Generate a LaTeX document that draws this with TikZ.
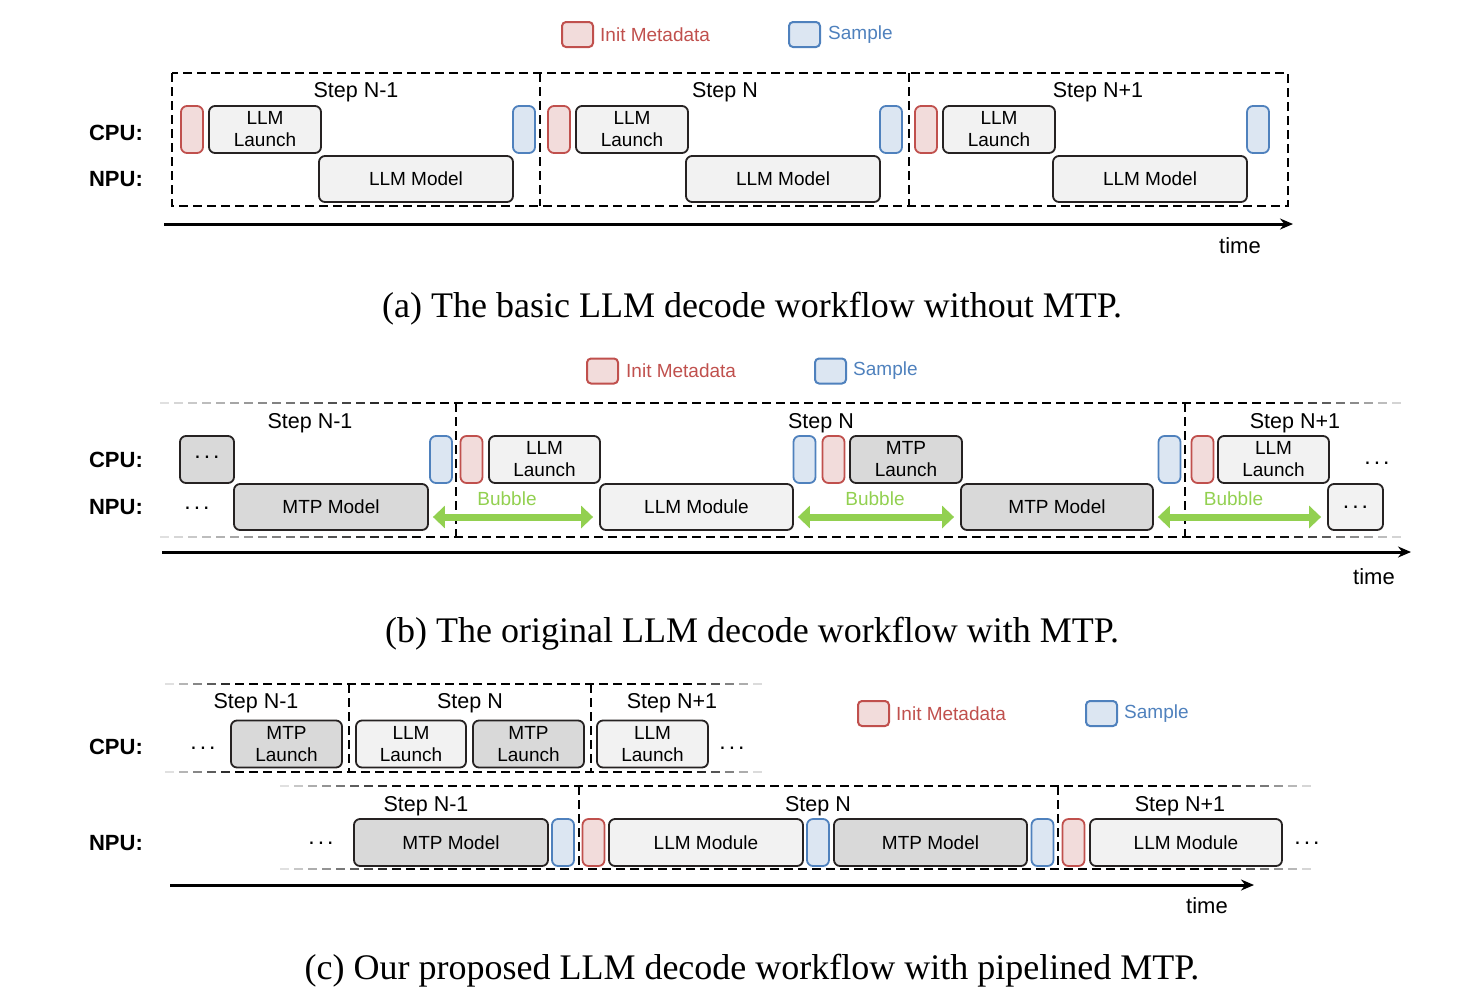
\documentclass[tikz,border=0pt]{standalone}
\usepackage{fontspec}
\setmainfont{Liberation Serif}
\setsansfont{Liberation Sans}
\usetikzlibrary{arrows.meta,positioning}
\definecolor{initred}{RGB}{192,80,77}
\definecolor{initfill}{RGB}{242,220,219}
\definecolor{smplblue}{RGB}{79,129,189}
\definecolor{smplfill}{RGB}{220,230,242}
\definecolor{boxline}{RGB}{38,34,34}
\definecolor{litefill}{RGB}{242,242,242}
\definecolor{darkfill}{RGB}{217,217,217}
\definecolor{bubblegreen}{RGB}{146,208,80}
\tikzset{
    %Define standard arrow tip
    >={Stealth[length=13pt,width=11pt]},
    %Define style for boxes
    llmbox/.style={
           rectangle,
           rounded corners=6pt,
           draw=boxline, line width=1.8pt,
           minimum height=47pt,
           inner sep=0pt,
           font=\sffamily\fontsize{19}{22}\selectfont,
           align=center,
           fill=litefill},
    mtpbox/.style={llmbox, fill=darkfill},
    initbox/.style={llmbox, draw=initred, fill=initfill, minimum width=22pt},
    samplebox/.style={llmbox, draw=smplblue, fill=smplfill, minimum width=22pt},
    keybox/.style={
           rectangle,
           rounded corners=4pt,
           line width=2pt,
           minimum width=31pt,
           minimum height=25pt},
    plain/.style={font=\sffamily\fontsize{19}{22}\selectfont},
    steplabel/.style={font=\sffamily\fontsize{21.5}{24}\selectfont},
    timelabel/.style={font=\sffamily\fontsize{22}{24}\selectfont},
    unit/.style={font=\sffamily\bfseries\fontsize{22}{24}\selectfont},
    caption/.style={font=\fontsize{36}{40}\selectfont},
    % Define frame and arrow styles
    frame/.style={dash pattern=on 9pt off 5pt, line width=2pt},
    divider/.style={dash pattern=on 9pt off 5pt, line width=1.6pt},
    axis/.style={->, line width=3pt},
    bubble/.style={
           {Triangle[length=12pt,width=22pt]}-{Triangle[length=12pt,width=22pt]},
           line width=7pt,
           draw=bubblegreen,
           shorten <=4pt,
           shorten >=6pt},
    bubbletext/.style={midway, above=4pt, xshift=-7pt, text=bubblegreen, plain}
}
% spaced dots
\newcommand{\sdots}{{\fontsize{23}{23}\selectfont.\kern3pt.\kern3pt.}}
% dashed line fading out at both ends
\newcommand{\fadeline}[5]{%
  \pgfmathsetmacro{\fnext}{#1+14}%
  \foreach \fx in {#1,\fnext,...,#2}{%
    \pgfmathtruncatemacro{\fp}{12+88*min(1,(\fx-#1)/#4,(#2-\fx)/#5)}%
    \draw[black!\fp, line width=2pt] (\fx,#3) -- ++(9,0);
  }}

\begin{document}
\begin{tikzpicture}[x=1pt,y=-1pt]
\useasboundingbox (0,0) rectangle (1482,999);

% (a) basic workflow
\node[keybox, draw=initred, fill=initfill] (ka1) at (577.5,34.5) {};
\node[plain, text=initred, anchor=west, inner sep=0pt] (kta1) at (600,35) {Init Metadata};
\node[keybox, draw=smplblue, fill=smplfill] (ka2) at (804.5,34.5) {};
\node[plain, text=smplblue, anchor=west, inner sep=0pt] (kta2) at (828,35) {Sample};
\node[unit] (cpua) at (116,133) {CPU:};
\node[unit] (npua) at (116,179) {NPU:};
\draw[frame] (172,73) rectangle (1288,206);
\draw[frame] (540,73) -- (540,206);
\draw[frame] (909,73) -- (909,206);
\foreach \i/\s/\c in {0/N-1/356,1/N/725,2/N+1/1098}{
  \pgfmathsetmacro{\dx}{367*\i}
  \node[steplabel] (sa\i) at (\c,92) {Step \s};
  \node[initbox] (ia\i) at (192+\dx,129.5) {};
  \node[llmbox, minimum width=112pt] (la\i) at (265+\dx,129.5) {LLM\\Launch};
  \node[llmbox, minimum width=194pt, minimum height=46pt] (ma\i) at (416+\dx,179) {LLM Model};
  \node[samplebox] (pa\i) at (524+\dx,129.5) {};
}
\coordinate (ta0) at (164,224);
\coordinate (ta1) at (1293,224);
\draw[axis] (ta0) -- (ta1);
\node[timelabel] (timea) at (1240,246) {time};
\node[caption] (capa) at (752,309) {(a) The basic LLM decode workflow without MTP.};

% (b) original MTP workflow
\node[keybox, draw=initred, fill=initfill] (kb1) at (602.5,371) {};
\node[plain, text=initred, anchor=west, inner sep=0pt] (ktb1) at (626,371) {Init Metadata};
\node[keybox, draw=smplblue, fill=smplfill] (kb2) at (830.5,371) {};
\node[plain, text=smplblue, anchor=west, inner sep=0pt] (ktb2) at (853,371) {Sample};
\node[unit] (cpub) at (116,460) {CPU:};
\node[unit] (npub) at (116,507) {NPU:};
\fadeline{160}{1400}{403}{260}{130}
\fadeline{160}{1400}{537}{260}{130}
\draw[divider] (456,403) -- (456,537);
\draw[divider] (1185,403) -- (1185,537);
\node[steplabel] (sb0) at (310,423) {Step N-1};
\node[steplabel] (sb1) at (821,423) {Step N};
\node[steplabel] (sb2) at (1295,423) {Step N+1};
\node[mtpbox, minimum width=54pt] (db0) at (207,459.5) {\raisebox{5pt}{\sdots}};
\node[plain] (eb0) at (197,508) {\sdots};
\node[mtpbox, minimum width=194pt, minimum height=46pt] (mb0) at (331,507) {MTP Model};
\node[samplebox] (pb0) at (441,459.5) {};
\node[initbox] (ib1) at (471.5,459.5) {};
\node[llmbox, minimum width=111pt] (lb1) at (544.5,459.5) {LLM\\Launch};
\node[llmbox, minimum width=193pt, minimum height=46pt] (lmb1) at (696.5,507) {LLM Module};
\node[samplebox] (pb1) at (804.5,459.5) {};
\node[initbox] (ib2) at (833.5,459.5) {};
\node[mtpbox, minimum width=112pt] (mlb1) at (906,459.5) {MTP\\Launch};
\node[mtpbox, minimum width=192pt, minimum height=46pt] (mb1) at (1057,507) {MTP Model};
\node[samplebox] (pb2) at (1169.5,459.5) {};
\node[initbox] (ib3) at (1202.5,459.5) {};
\node[llmbox, minimum width=111pt] (lb2) at (1273.5,459.5) {LLM\\Launch};
\node[plain] (eb1) at (1377,463) {\sdots};
\node[llmbox, minimum width=55pt, minimum height=46pt] (db1) at (1355.5,507) {\sdots};
\draw[bubble] ([yshift=-10pt]mb0.east) -- node[bubbletext] (bt0) {Bubble} ([yshift=-10pt]lmb1.west);
\draw[bubble] ([yshift=-10pt]lmb1.east) -- node[bubbletext, xshift=5pt] (bt1) {Bubble} ([yshift=-10pt]mb1.west);
\draw[bubble] ([yshift=-10pt]mb1.east) -- node[bubbletext] (bt2) {Bubble} ([yshift=-10pt]db1.west);
\coordinate (tb0) at (162,552);
\coordinate (tb1) at (1411,552);
\draw[axis] (tb0) -- (tb1);
\node[timelabel] (timeb) at (1374,577) {time};
\node[caption] (capb) at (752,634) {(b) The original LLM decode workflow with MTP.};

% (c) pipelined MTP workflow
\node[keybox, draw=initred, fill=initfill] (kc1) at (873.5,713.5) {};
\node[plain, text=initred, anchor=west, inner sep=0pt] (ktc1) at (896,714) {Init Metadata};
\node[keybox, draw=smplblue, fill=smplfill] (kc2) at (1101.5,713.5) {};
\node[plain, text=smplblue, anchor=west, inner sep=0pt] (ktc2) at (1124,714) {Sample};
\node[unit] (cpuc) at (116,747) {CPU:};
\node[unit] (npuc) at (116,843) {NPU:};
\fadeline{165}{755}{684}{70}{70}
\fadeline{165}{755}{772}{70}{70}
\draw[divider] (349,684) -- (349,772);
\draw[divider] (591,684) -- (591,772);
\node[steplabel] (sc0) at (256,703) {Step N-1};
\node[steplabel] (sc1) at (470,703) {Step N};
\node[steplabel] (sc2) at (672,703) {Step N+1};
\node[plain] (ec0) at (203,748) {\sdots};
\node[mtpbox, minimum width=111pt] (mlc0) at (286.5,744) {MTP\\Launch};
\node[llmbox, minimum width=110pt] (lc1) at (411,744) {LLM\\Launch};
\node[mtpbox, minimum width=111pt] (mlc1) at (528.5,744) {MTP\\Launch};
\node[llmbox, minimum width=111pt] (lc2) at (652.5,744) {LLM\\Launch};
\node[plain] (ec1) at (732,748) {\sdots};
\fadeline{280}{1307}{786}{120}{100}
\fadeline{280}{1307}{869}{120}{100}
\draw[divider] (579,786) -- (579,869);
\draw[divider] (1058,786) -- (1058,869);
\node[steplabel] (sd0) at (426,806) {Step N-1};
\node[steplabel] (sd1) at (818,806) {Step N};
\node[steplabel] (sd2) at (1180,806) {Step N+1};
\node[plain] (ed0) at (321,843) {\sdots};
\node[mtpbox, minimum width=194pt] (mc0) at (451,842.5) {MTP Model};
\node[samplebox] (pc0) at (563,842.5) {};
\node[initbox] (ic1) at (593.5,842.5) {};
\node[llmbox, minimum width=194pt] (lmc1) at (706,842.5) {LLM Module};
\node[samplebox] (pc1) at (818,842.5) {};
\node[mtpbox, minimum width=193pt] (mc1) at (930.5,842.5) {MTP Model};
\node[samplebox] (pc2) at (1042.5,842.5) {};
\node[initbox] (ic2) at (1073.5,842.5) {};
\node[llmbox, minimum width=192pt] (lmc2) at (1186,842.5) {LLM Module};
\node[plain] (ed1) at (1307,843) {\sdots};
\coordinate (tc0) at (170,885);
\coordinate (tc1) at (1254,885);
\draw[axis] (tc0) -- (tc1);
\node[timelabel] (timec) at (1207,906) {time};
\node[caption] (capc) at (752,971) {(c) Our proposed LLM decode workflow with pipelined MTP.};
\end{tikzpicture}
\end{document}
